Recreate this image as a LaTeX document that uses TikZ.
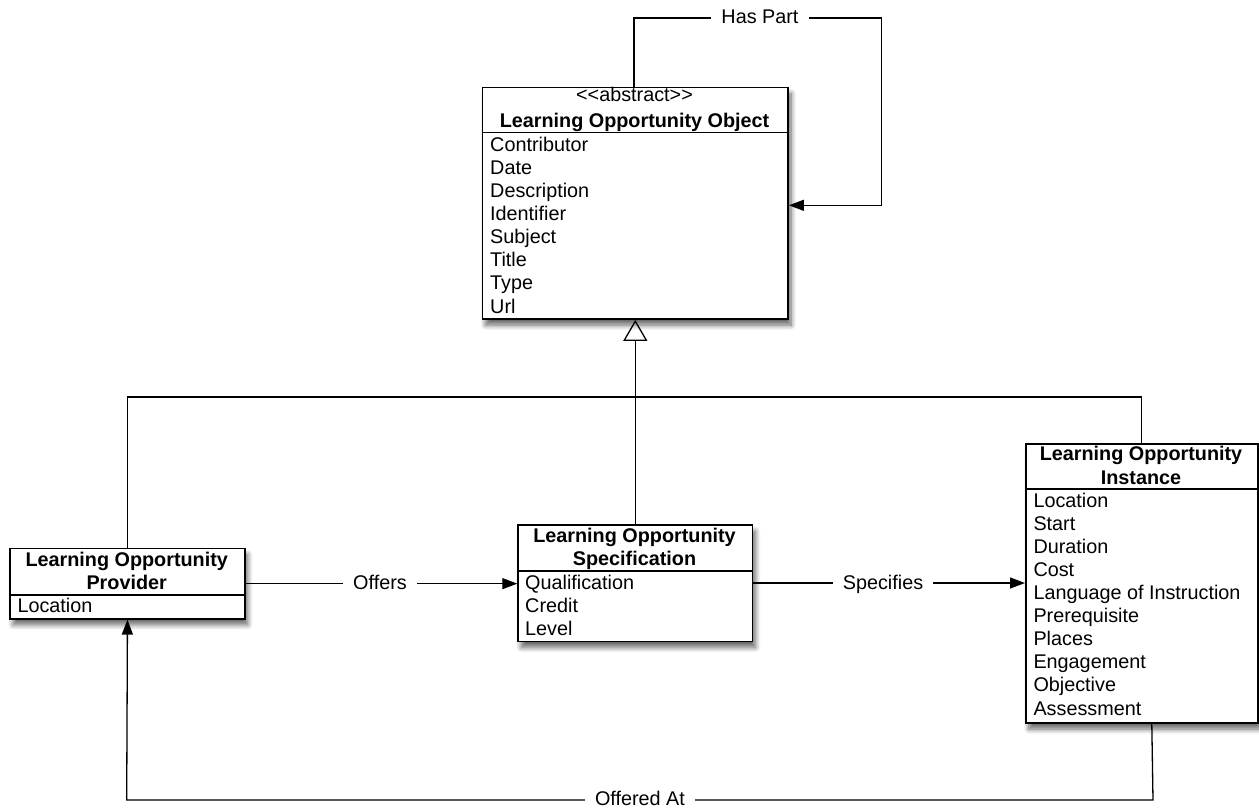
\documentclass[tikz,border=0pt]{standalone}
\usepackage{fontspec}
\setmainfont{Liberation Sans}
\usetikzlibrary{arrows.meta,shadows.blur,calc}
\begin{document}
\begin{tikzpicture}[x=1pt,y=-1pt,
  font=\fontsize{19.8}{23.15}\selectfont,
  box/.style={draw, line width=1.6pt, fill=white, inner sep=0pt, anchor=north west,
    blur shadow={shadow xshift=3pt, shadow yshift=-6pt, shadow blur steps=10, shadow opacity=60, shadow blur radius=5pt}},
  sepline/.style={line width=1.3pt},
  conn/.style={line width=1.3pt},
  arr/.style={-{Triangle[length=15pt,width=11pt]}},
  gen/.style={-{Triangle[open,length=21pt,width=24pt,line width=1.3pt]}},
  item/.style={anchor=base west, inner sep=0pt},
  ttl/.style={anchor=base, inner sep=0pt, font=\fontsize{19.8}{23.15}\selectfont\bfseries},
  lbl/.style={anchor=base, fill=white, inner xsep=10pt, inner ysep=1.5pt}]
\useasboundingbox (0,0) rectangle (1259,807);

% Learning Opportunity Object
\node[box, minimum width=305.6pt, minimum height=231.6pt] (loo) at (481.7,86.7) {};
\draw[sepline] (loo.west |- 0,132.3) -- (loo.east |- 0,132.3);
\node[anchor=base, inner sep=0pt] (looS) at (634.5,101.7) {{<}{<}abstract{>}{>}};
\node[ttl] (looT) at (634.5,127.3) {Learning Opportunity Object};
\foreach \t [count=\i from 0] in {Contributor,Date,Description,Identifier,Subject,Title,Type,Url}
  \node[item] (looI\i) at (490,151+\i*23.15) {\t};

% Provider
\node[box, minimum width=234.7pt, minimum height=70.3pt] (prov) at (9.3,547.7) {};
\draw[sepline] (prov.west |- 0,595) -- (prov.east |- 0,595);
\node[ttl] (provT1) at (126.7,566) {Learning Opportunity};
\node[ttl] (provT2) at (126.7,589) {Provider};
\node[item] (provI0) at (17.3,612.3) {Location};

% Specification
\node[box, minimum width=234.4pt, minimum height=116.4pt] (spec) at (517.3,524.3) {};
\draw[sepline] (spec.west |- 0,571) -- (spec.east |- 0,571);
\node[ttl] (specT1) at (634.5,542.3) {Learning Opportunity};
\node[ttl] (specT2) at (634.5,565.6) {Specification};
\foreach \t [count=\i from 0] in {Qualification,Credit,Level}
  \node[item] (specI\i) at (525,589.3+\i*23.15) {\t};

% Instance
\node[box, minimum width=232pt, minimum height=279pt] (inst) at (1025,443.3) {};
\draw[sepline] (inst.west |- 0,489) -- (inst.east |- 0,489);
\node[ttl] (instT1) at (1141,460.5) {Learning Opportunity};
\node[ttl] (instT2) at (1141,484) {Instance};
\foreach \t [count=\i from 0] in {Location,Start,Duration,Cost,Language of Instruction,Prerequisite,Places,Engagement,Objective,Assessment}
  \node[item] (instI\i) at (1033.3,507.3+\i*23.08) {\t};

% Has Part (self association)
\coordinate (hp1) at (634,18);
\coordinate (hp2) at (881.7,18);
\coordinate (hp3) at (881.7,205.3);
\draw[conn,arr] (loo.north -| hp1) -- (hp1) -- (hp2) -- (hp3) -- (loo.east |- hp3);
\node[lbl] (hasPart) at (760,23.3) {Has Part};

% Generalization
\coordinate (gj) at (634.5,397);
\draw[conn] (prov.north) |- (gj);
\draw[conn] (inst.north) |- (gj);
\draw[conn,gen] (spec.north) -- (loo.south);

% Offers
\draw[conn,arr] (prov.east) -- (spec.west |- prov.east);
\node[lbl] (offers) at (380,589) {Offers};

% Specifies
\draw[conn,arr] (spec.east |- 0,583) -- (inst.west |- 0,583);
\node[lbl] (specifies) at (883,589) {Specifies};

% Offered At
\coordinate (oa0) at ($(inst.south)+(10,0)$);
\coordinate (oa1) at (1153,800);
\coordinate (oa2) at (126.7,800);
\draw[conn,arr] (oa0) -- (oa1) -- (oa2) -- (prov.south);
\node[lbl] (offeredAt) at (640,805) {Offered At};
\end{tikzpicture}
\end{document}
